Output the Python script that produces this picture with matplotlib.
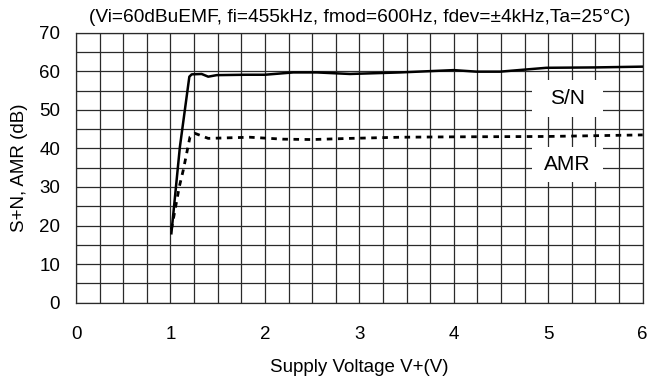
import matplotlib
matplotlib.use("Agg")
import matplotlib.pyplot as plt
from matplotlib.patches import Rectangle
import numpy as np

plt.rcParams['font.family'] = ['Liberation Sans', 'DejaVu Sans']

title = "(Vi=60dBuEMF, fi=455kHz, fmod=600Hz, fdev=±4kHz,Ta=25°C)"
xlabel = "Supply Voltage V+(V)"
ylabel = "S+N, AMR (dB)"

sn_x = [1.01, 1.10, 1.20, 1.225, 1.33, 1.40, 1.49, 1.8, 2.0, 2.30, 2.55, 2.90, 3.43, 4.0, 4.24, 4.49, 4.98, 5.5, 6.0]
sn_y = [18.0, 40.4, 58.6, 59.2, 59.3, 58.6, 59.0, 59.1, 59.1, 59.7, 59.7, 59.3, 59.7, 60.3, 59.9, 59.9, 60.9, 61.0, 61.2]

amr_x = [1.01, 1.094, 1.136, 1.207, 1.26, 1.40, 1.84, 2.19, 2.5, 2.9, 3.43, 4.0, 5.0, 6.0]
amr_y = [19.0, 30.1, 34.4, 43.0, 43.9, 42.6, 42.9, 42.4, 42.3, 42.6, 42.9, 43.0, 43.1, 43.5]

xticks = [0, 1, 2, 3, 4, 5, 6]
yticks = [0, 10, 20, 30, 40, 50, 60, 70]

fig = plt.figure(figsize=(6.59, 3.81), dpi=100)
ax = fig.add_axes([76/659, 1-302.7/381, (642.7-76)/659, (302.7-32.7)/381])
ax.set_xlim(0, 6)
ax.set_ylim(0, 70)

ax.set_xticks(np.arange(0, 6.001, 0.25), minor=True)
ax.set_yticks(np.arange(0, 70.001, 5), minor=True)
ax.set_xticks(xticks)
ax.set_yticks(yticks)
ax.set_xticklabels([str(t) for t in xticks])
ax.set_yticklabels([str(t) for t in yticks])
ax.tick_params(which='both', length=0, labelsize=13.5)
ax.tick_params(axis='x', pad=16.5)
ax.tick_params(axis='y', pad=11.5)
ax.grid(which='both', color='#2a2a2a', linewidth=0.9)
ax.set_axisbelow(True)
for s in ax.spines.values():
    s.set_color('#2a2a2a')
    s.set_linewidth(0.9)

ax.plot(sn_x, sn_y, color='black', linewidth=1.8, zorder=3)
ax.plot(amr_x, amr_y, color='black', linewidth=2.0, linestyle=(0, (2.0, 2.0)), zorder=3)

for (y0, y1, lab) in [(48.2, 57.7, 'S/N'), (31.4, 40.4, 'AMR')]:
    ax.add_patch(Rectangle((4.825, y0), 0.758, y1 - y0, facecolor='white', edgecolor='none', zorder=2))
    ax.text(5.2, (y0 + y1) / 2, lab, ha='center', va='center', fontsize=15, zorder=4)

ax.set_title(title, fontsize=13.8, pad=8)
ax.set_xlabel(xlabel, fontsize=13.5, labelpad=12)
ax.set_ylabel(ylabel, fontsize=13.5, labelpad=8)

fig.savefig('out.png', dpi=100)
